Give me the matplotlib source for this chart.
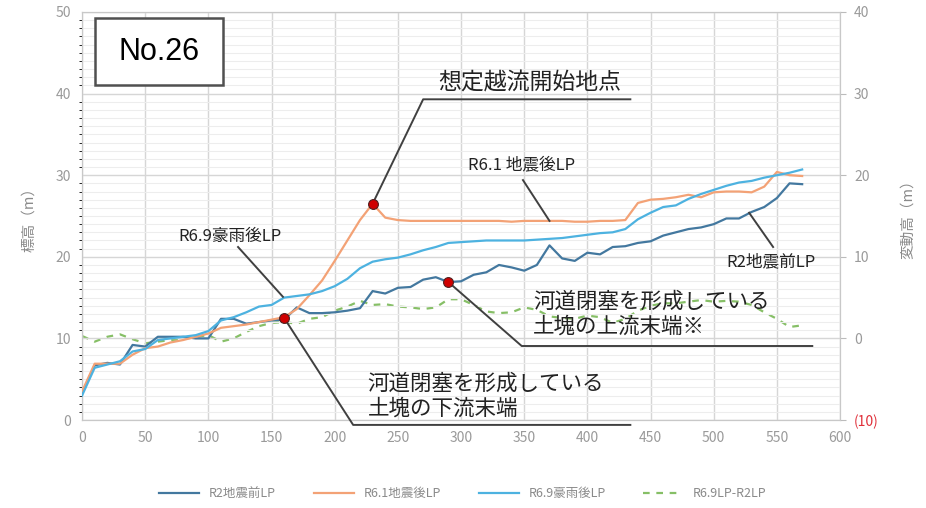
import numpy as np
import matplotlib
matplotlib.use("Agg")
import matplotlib.pyplot as plt
from matplotlib.patches import Rectangle

plt.rcParams['font.family'] = ['Noto Sans CJK JP', 'DejaVu Sans']

# distance (m), every 10 m
dist = np.arange(0, 580, 10)

# R2 before earthquake
r2 = [3.3, 6.7, 7.0, 6.8, 9.2, 9.0, 10.2, 10.2, 10.2, 10.0,
      10.0, 12.4, 12.4, 11.8, 12.0, 12.2, 12.3, 13.8, 13.1, 13.1,
      13.2, 13.4, 13.7, 15.8, 15.5, 16.2, 16.3, 17.2, 17.5, 16.9,
      17.0, 17.8, 18.1, 19.0, 18.7, 18.3, 19.0, 21.4, 19.8, 19.5,
      20.5, 20.3, 21.2, 21.3, 21.7, 21.9, 22.6, 23.0, 23.4, 23.6,
      24.0, 24.7, 24.7, 25.5, 26.1, 27.2, 29.0, 28.9]
# R6.1 after earthquake
r61 = [3.5, 6.9, 6.9, 6.9, 8.0, 8.8, 9.0, 9.5, 9.8, 10.2,
       10.6, 11.3, 11.5, 11.7, 12.0, 12.3, 12.6, 13.6, 15.3, 17.1,
       19.5, 22.0, 24.5, 26.5, 24.8, 24.5, 24.4, 24.4, 24.4, 24.4,
       24.4, 24.4, 24.4, 24.4, 24.3, 24.4, 24.4, 24.4, 24.4, 24.3,
       24.3, 24.4, 24.4, 24.5, 26.6, 27.0, 27.1, 27.3, 27.6, 27.3,
       27.9, 28.0, 28.0, 27.9, 28.6, 30.4, 30.0, 29.9]
# R6.9 after heavy rain
r69 = [3.0, 6.4, 6.8, 7.2, 8.4, 8.7, 9.8, 10.0, 10.2, 10.4,
       10.9, 12.2, 12.6, 13.2, 13.9, 14.1, 15.0, 15.2, 15.4, 15.8,
       16.4, 17.3, 18.6, 19.4, 19.7, 19.9, 20.3, 20.8, 21.2, 21.7,
       21.8, 21.9, 22.0, 22.0, 22.0, 22.0, 22.1, 22.2, 22.3, 22.5,
       22.7, 22.9, 23.0, 23.4, 24.6, 25.4, 26.1, 26.3, 27.1, 27.7,
       28.2, 28.7, 29.1, 29.3, 29.7, 30.0, 30.3, 30.7]
# R6.9LP - R2LP (right axis)
diff = [0.3, -0.4, 0.2, 0.5, -0.1, -0.6, -0.4, -0.2, -0.1, 0.2,
        0.4, -0.4, 0.0, 0.8, 1.5, 1.9, 2.0, 1.8, 2.4, 2.6,
        3.4, 3.9, 4.6, 4.1, 4.2, 3.9, 3.8, 3.6, 3.8, 4.8,
        4.8, 4.1, 3.3, 3.1, 3.2, 3.8, 3.5, 2.7, 2.5, 2.4,
        2.8, 2.6, 1.9, 2.4, 3.4, 4.0, 4.3, 4.3, 4.5, 4.7,
        4.5, 4.6, 4.5, 4.1, 3.2, 2.4, 1.4, 1.6]

labels = ['R2地震前LP', 'R6.1地震後LP', 'R6.9豪雨後LP', 'R6.9LP-R2LP']
c_r2 = '#43789F'
c_r61 = '#F3A276'
c_r69 = '#4DB2E0'
c_diff = '#86BF66'

fig = plt.figure(figsize=(9.26, 5.08), dpi=100)
ax = fig.add_axes([0.0886, 0.1732, 0.8186, 0.8032])
ax2 = ax.twinx()

ax.set_xlim(0, 600)
ax.set_ylim(0, 50)
ax2.set_ylim(-10, 40)

ax.set_xticks(np.arange(0, 601, 50))
ax.set_yticks(np.arange(0, 51, 10))
ax.set_yticks(np.arange(0, 51, 1), minor=True)
ax.grid(which='major', color='#D6D6D6', lw=1.0)
ax.grid(which='minor', axis='y', color='#EDEDED', lw=0.8)
ax.set_axisbelow(True)

ax2.set_yticks(np.arange(-10, 41, 10))
ax2.set_yticklabels(['(10)', '0', '10', '20', '30', '40'])

for a in (ax, ax2):
    for s in a.spines.values():
        s.set_color('#C8C8C8')
ax.tick_params(axis='both', length=0, colors='#9A9A9A', labelsize=10, pad=8)
ax2.tick_params(axis='y', length=4, color='#BBBBBB', labelcolor='#9A9A9A', labelsize=10, pad=6)
ax2.yaxis.get_major_ticks()[0].label2.set_color('#E0303A')

ax.set_ylabel('標高（m）', color='#8A8A8A', fontsize=10.5, labelpad=14)
ax2.set_ylabel('変動高（m）', color='#8A8A8A', fontsize=10.5, labelpad=16)

l1, = ax.plot(dist, r2, color=c_r2, lw=1.6, zorder=3)
l2, = ax.plot(dist, r61, color=c_r61, lw=1.6, zorder=3)
l3, = ax.plot(dist, r69, color=c_r69, lw=1.6, zorder=3)
l4, = ax2.plot(dist, diff, color=c_diff, lw=1.6, ls=(0, (3, 3)), zorder=2)

# No.26 box
ax.add_patch(Rectangle((0.017, 0.821), 0.169, 0.164, transform=ax.transAxes,
                       fill=True, facecolor='white', edgecolor='#505050', lw=1.8, zorder=6))
ax.text(0.102, 0.903, 'No.26', transform=ax.transAxes, ha='center', va='center',
        fontsize=22, family=['Liberation Sans', 'DejaVu Sans'], zorder=7)

ax2.set_zorder(ax.get_zorder() - 1)
ax.patch.set_visible(False)

lc = '#404040'
kw = dict(color=lc, lw=1.4, clip_on=False, zorder=5)

# overflow start point
ax.plot([230, 270, 434], [26.5, 39.3, 39.3], **kw)
ax.text(282, 41.3, '想定越流開始地点', fontsize=16.5, ha='left', va='center', color='#222222')

# series labels
ax.text(348, 31.25, 'R6.1 地震後LP', fontsize=12, ha='center', va='center', color='#222222')
ax.plot([349, 370], [29.4, 24.4], **kw)
ax.text(117, 22.5, 'R6.9豪雨後LP', fontsize=12, ha='center', va='center', color='#222222')
ax.plot([123.5, 159], [21.2, 15.1], **kw)
ax.text(545, 19.4, 'R2地震前LP', fontsize=12, ha='center', va='center', color='#222222')
ax.plot([528, 547], [25.4, 21.2], **kw)

# upstream end of blockage
ax.plot([290, 348, 578], [16.9, 9.07, 9.07], **kw)
ax.text(357, 13.0, '河道閉塞を形成している\n土塊の上流末端※', fontsize=15.5,
        ha='left', va='center', linespacing=1.15, color='#222222')

# downstream end of blockage
ax.plot([160, 214.6, 434], [12.5, -0.6, -0.6], **kw)
ax.text(226, 2.9, '河道閉塞を形成している\n土塊の下流末端', fontsize=15.5,
        ha='left', va='center', linespacing=1.15, color='#222222')

# markers
ax.scatter([160, 230, 290], [12.5, 26.5, 16.9], s=50, color='#D00000',
           edgecolor='#502020', lw=0.8, zorder=8)

fig.legend([l1, l2, l3, l4], labels, loc='center', bbox_to_anchor=(0.5, 0.028),
           ncol=4, frameon=False, fontsize=9, labelcolor='#8A8A8A',
           handlelength=3.2, columnspacing=3.0)

fig.savefig('out.png', dpi=100)
